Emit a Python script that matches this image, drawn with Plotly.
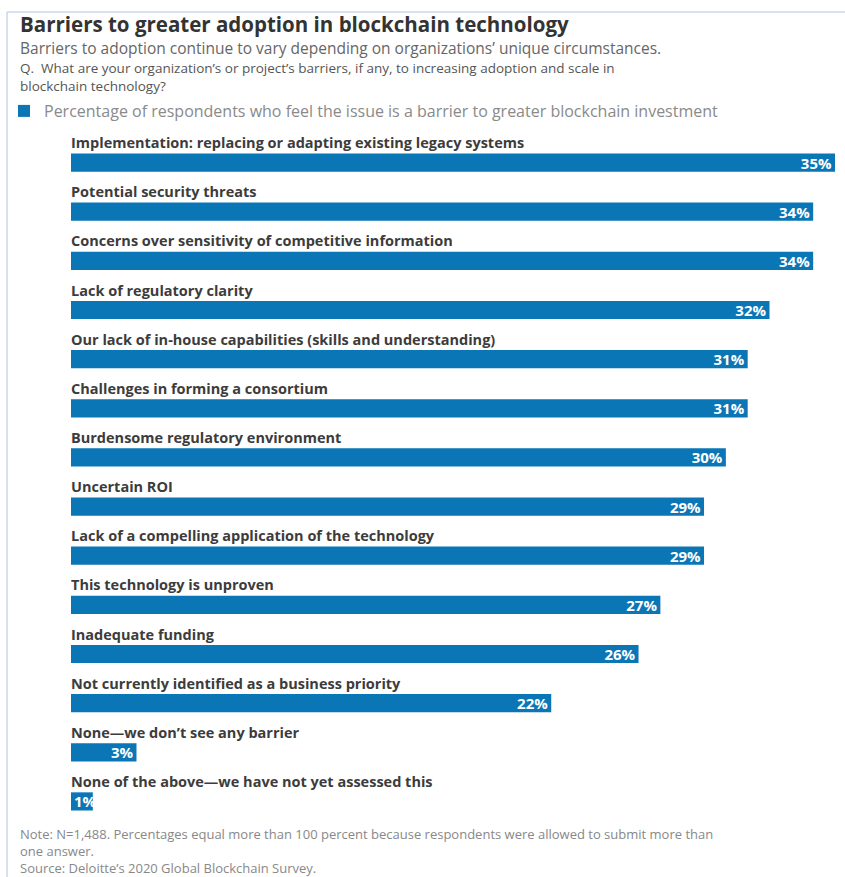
import plotly.graph_objects as go

# Survey results: share of respondents citing each barrier
categories = [
    "Implementation: replacing or adapting existing legacy systems",
    "Potential security threats",
    "Concerns over sensitivity of competitive information",
    "Lack of regulatory clarity",
    "Our lack of in-house capabilities (skills and understanding)",
    "Challenges in forming a consortium",
    "Burdensome regulatory environment",
    "Uncertain ROI",
    "Lack of a compelling application of the technology",
    "This technology is unproven",
    "Inadequate funding",
    "Not currently identified as a business priority",
    "None\u2014we don\u2019t see any barrier",
    "None of the above\u2014we have not yet assessed this",
]
values = [35, 34, 34, 32, 31, 31, 30, 29, 29, 27, 26, 22, 3, 1]

title = "Barriers to greater adoption in blockchain technology"
subtitle = "Barriers to adoption continue to vary depending on organizations\u2019 unique circumstances."
question = ("Q.  What are your organization\u2019s or project\u2019s barriers, if any, to increasing adoption and scale in"
            "<br>blockchain technology?")
series_name = "Percentage of respondents who feel the issue is a barrier to greater blockchain investment"
notes = ("Note: N=1,488. Percentages equal more than 100 percent because respondents were allowed to submit more than"
         "<br>one answer."
         "<br>Source: Deloitte\u2019s 2020 Global Blockchain Survey.")

W, H = 845, 877
ML, MR, MT, MB = 71, 10, 138, 51
PW, PH = W - ML - MR, H - MT - MB

BLUE = "#0b76b5"
FONT = "Open Sans"


def px_x(px):
    return (px - ML) / PW


def px_y(py):
    return (H - MB - py) / PH


ypos = list(range(len(categories)))

# bars too short to hold their label at the end get it anchored at the start
short = [v < 2 for v in values]
groups = [
    ([i for i in ypos if not short[i]], "end", True),
    ([i for i in ypos if short[i]], "start", False),
]

fig = go.Figure()
for idx, anchor, legend in groups:
    fig.add_trace(go.Bar(
        x=[values[i] for i in idx],
        y=idx,
        orientation="h",
        width=0.37,
        marker=dict(color=BLUE, line=dict(width=0)),
        name=series_name,
        legendgroup="main",
        text=[f"{values[i]}%" for i in idx],
        textposition="inside",
        insidetextanchor=anchor,
        textfont=dict(family=FONT, size=15, color="white", weight="bold"),
        hoverinfo="skip",
        cliponaxis=False,
        showlegend=legend,
    ))

annotations = []
for i, c in enumerate(categories):
    annotations.append(dict(
        x=0, y=i, xref="x", yref="y", text=c, showarrow=False,
        xanchor="left", yanchor="middle", yshift=20, xshift=-2,
        font=dict(family=FONT, size=14.5, color="#3c3c3c", weight="bold"),
    ))

texts = [
    (18, 24.5, title, dict(family=FONT, size=20.5, color="#333333", weight="bold")),
    (18, 48, subtitle, dict(family=FONT, size=15.5, color="#666666")),
    (18, 77, question, dict(family=FONT, size=13.5, color="#555555")),
    (18, 851, notes, dict(family=FONT, size=13, color="#888888")),
]
for px, py, t, f in texts:
    annotations.append(dict(
        x=px_x(px), y=px_y(py), xref="paper", yref="paper", text=t,
        showarrow=False, xanchor="left", yanchor="middle", align="left", font=f,
    ))

fig.update_layout(
    width=W, height=H,
    margin=dict(l=ML, r=MR, t=MT, b=MB, autoexpand=False),
    paper_bgcolor="white", plot_bgcolor="white",
    barmode="overlay",
    xaxis=dict(range=[0, 35], visible=False, fixedrange=True),
    yaxis=dict(range=[len(categories) - 0.5, -0.5], visible=False, fixedrange=True),
    showlegend=True,
    legend=dict(
        x=px_x(4), y=px_y(111), xanchor="left", yanchor="middle",
        font=dict(family=FONT, size=16, color="#8a8a8a"),
        bgcolor="rgba(0,0,0,0)", itemwidth=30,
    ),
    annotations=annotations,
    shapes=[
        dict(type="line", xref="paper", yref="paper", x0=px_x(7), x1=px_x(W), y0=px_y(12), y1=px_y(12),
             line=dict(color="#c9d9ee", width=1.5)),
        dict(type="line", xref="paper", yref="paper", x0=px_x(7), x1=px_x(7), y0=px_y(12), y1=px_y(H),
             line=dict(color="#c9d9ee", width=1.5)),
    ],
    uniformtext=dict(minsize=15, mode="show"),
)

fig.write_html("out.html")
